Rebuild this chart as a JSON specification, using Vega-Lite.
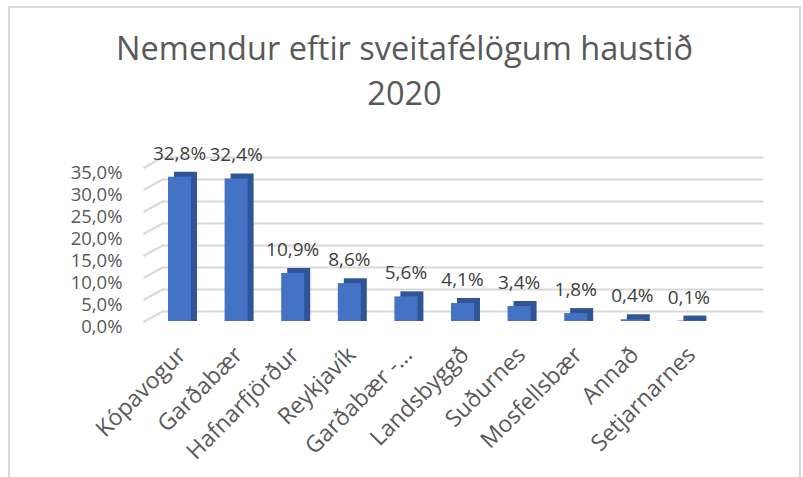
{
  "$schema": "https://vega.github.io/schema/vega-lite/v6.json",
  "autosize": {"type": "none"},
  "padding": {"left": 9, "top": 7, "right": 3, "bottom": 0},
  "width": 791,
  "height": 471,
  "background": "white",
  "config": {
    "locale": {"number": {"decimal": ",", "thousands": ".", "grouping": [3], "currency": ["", " kr."]}},
    "view": {"stroke": "#d9d9d9", "strokeWidth": 2},
    "font": "Open Sans"
  },
  "title": {
    "text": ["Nemendur eftir sveitafélögum haustið", "2020"],
    "fontSize": 32.5,
    "fontWeight": "normal",
    "color": "#595959",
    "font": "Open Sans",
    "lineHeight": 45,
    "offset": -104,
    "anchor": "middle",
    "frame": "group"
  },
  "data": {
    "values": [
      {"sveitarfelag": "Kópavogur", "hlutfall": 0.328},
      {"sveitarfelag": "Garðabær", "hlutfall": 0.324},
      {"sveitarfelag": "Hafnarfjörður", "hlutfall": 0.109},
      {"sveitarfelag": "Reykjavík", "hlutfall": 0.086},
      {"sveitarfelag": "Garðabær -...", "hlutfall": 0.056},
      {"sveitarfelag": "Landsbyggð", "hlutfall": 0.041},
      {"sveitarfelag": "Suðurnes", "hlutfall": 0.034},
      {"sveitarfelag": "Mosfellsbær", "hlutfall": 0.018},
      {"sveitarfelag": "Annað", "hlutfall": 0.004},
      {"sveitarfelag": "Setjarnarnes", "hlutfall": 0.001}
    ]
  },
  "encoding": {
    "x": {
      "field": "sveitarfelag",
      "type": "nominal",
      "sort": null,
      "scale": {"range": [153, 754], "paddingInner": 0.5936, "paddingOuter": 0.606, "align": 0.0875},
      "axis": {
        "title": null,
        "labelAngle": -45,
        "labelAlign": "right",
        "labelBaseline": "top",
        "labelFontSize": 23,
        "labelFont": "Open Sans",
        "labelColor": "#595959",
        "ticks": false,
        "domain": false,
        "grid": false,
        "offset": -135,
        "labelPadding": 0,
        "labelOffset": -5,
        "labelOverlap": false,
        "labelLimit": 250
      }
    },
    "y": {
      "field": "hlutfall",
      "type": "quantitative",
      "scale": {"domain": [0, 0.35], "range": [304, 150], "nice": false, "zero": true},
      "axis": {
        "title": null,
        "values": [0, 0.05, 0.1, 0.15, 0.2, 0.25, 0.3, 0.35],
        "format": ".1%",
        "grid": true,
        "gridColor": "#d9d9d9",
        "gridWidth": 2,
        "ticks": false,
        "domain": false,
        "labelFontSize": 18.5,
        "labelFont": "Open Sans",
        "labelColor": "#595959",
        "offset": -113,
        "labelPadding": 0,
        "labelOffset": 15,
        "labelOverlap": false
      }
    }
  },
  "layer": [
    {
      "data": {"values": [{"v": 0}, {"v": 0.05}, {"v": 0.1}, {"v": 0.15}, {"v": 0.2}, {"v": 0.25}, {"v": 0.3}, {"v": 0.35}]},
      "mark": {"type": "rule", "color": "#d9d9d9", "strokeWidth": 2, "xOffset": -36, "x2Offset": -16, "yOffset": 11, "y2Offset": 0},
      "encoding": {
        "x": {"datum": "Kópavogur", "type": "nominal"},
        "x2": {"datum": "Kópavogur"},
        "y": {"field": "v", "type": "quantitative"},
        "y2": {"field": "v"}
      }
    },
    {
      "mark": {"type": "bar", "color": "#2F5597", "xOffset": 6, "yOffset": 5, "y2Offset": 10},
      "encoding": {"y2": {"datum": 0}}
    },
    {
      "mark": {"type": "bar", "color": "#4472C4", "yOffset": 10, "y2Offset": 10},
      "encoding": {"y2": {"datum": 0}}
    },
    {
      "mark": {"type": "text", "fontSize": 19, "font": "Open Sans", "color": "#404040", "baseline": "alphabetic", "align": "center", "yOffset": -7},
      "encoding": {
        "text": {"field": "hlutfall", "type": "quantitative", "format": ".1%"}
      }
    }
  ]
}
